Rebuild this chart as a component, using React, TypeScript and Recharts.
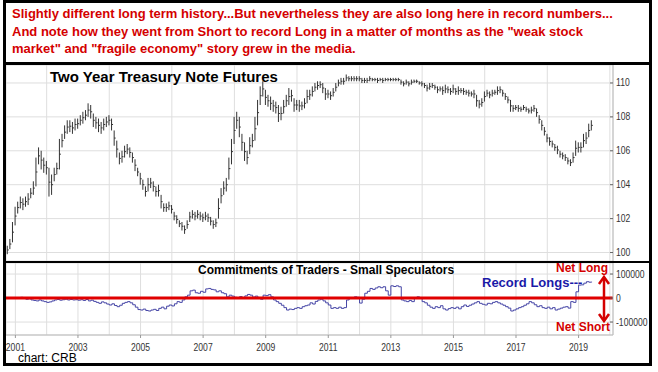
import React from 'react';
import { ComposedChart, Bar, LineChart, Line, XAxis, YAxis, CartesianGrid, ReferenceLine } from 'recharts';

// monthly bars, first one is Oct 2000
const firstMonth = 2000.75;

const yearTicks = [2001, 2002, 2003, 2004, 2005, 2006, 2007, 2008, 2009, 2010, 2011, 2012, 2013, 2014, 2015, 2016, 2017, 2018, 2019, 2020];
const labelYears = [2001, 2003, 2005, 2007, 2009, 2011, 2013, 2015, 2017, 2019];
const priceTicks = [100, 102, 104, 106, 108, 110];
const cotTicks = [-100000, 0, 100000];

const priceLow = [
  99.9, 100.2, 100.6,
  101.6, 102.3, 102.6, 102.5, 102.7, 102.8, 103.2, 103.4, 103.9, 105.2, 104.9, 104.7,
  104.6, 103.3, 103.4, 104.2, 104.6, 104.9, 106.2, 106.7, 107.0, 107.1, 107.0, 107.2,
  107.3, 107.5, 107.6, 107.8, 108.0, 107.9, 107.4, 107.3, 107.1, 107.0, 107.2, 107.4,
  107.5, 107.2, 106.3, 105.6, 105.2, 105.3, 105.6, 105.8, 105.6, 105.3, 104.8, 104.5,
  104.0, 103.7, 103.3, 103.6, 103.8, 103.6, 103.3, 103.3, 102.6, 102.4, 102.4, 102.5,
  102.3, 101.9, 101.7, 101.5, 101.3, 101.1, 101.4, 101.8, 102.0, 101.9, 102.0, 101.9,
  101.8, 101.9, 101.8, 101.6, 101.4, 101.5, 102.0, 102.9, 103.4, 103.6, 104.3, 105.2,
  106.4, 107.3, 106.8, 106.0, 105.4, 105.2, 105.8, 106.2, 106.6, 107.5, 108.7, 109.2,
  108.7, 108.6, 108.4, 108.3, 108.2, 107.7, 107.8, 108.2, 108.6, 108.7, 108.9, 108.3,
  108.4, 108.3, 108.4, 108.5, 108.8, 109.0, 109.2, 109.5, 109.6, 109.7, 109.4, 109.0,
  109.1, 109.0, 109.2, 109.5, 109.8, 109.9, 109.9, 110.1, 110.1, 110.1, 110.1, 110.1,
  110.1, 110.0, 110.0, 110.0, 110.1, 110.1, 110.1, 110.0, 110.1, 110.0, 110.1, 110.1,
  110.1, 110.1, 110.1, 110.1, 109.9, 109.8, 109.9, 109.8, 109.9, 110.0, 110.0, 109.9,
  109.8, 109.7, 109.5, 109.6, 109.7, 109.6, 109.4, 109.5, 109.3, 109.4, 109.4, 109.3,
  109.4, 109.3, 109.3, 109.4, 109.3, 109.3, 109.2, 109.2, 109.1, 108.6, 108.5, 108.6,
  108.9, 109.2, 109.1, 109.2, 109.3, 109.3, 109.4, 109.2, 109.0, 108.8, 108.3, 108.3,
  108.4, 108.3, 108.3, 108.4, 108.3, 108.2, 108.2, 108.3, 108.0, 107.6, 107.2, 106.9,
  106.5, 106.3, 106.2, 106.0, 105.8, 105.6, 105.5, 105.4, 105.2, 105.1, 105.3, 105.7,
  105.9, 105.9, 106.2, 106.4, 106.8, 107.2,
];

const priceHigh = [
  100.4, 100.8, 101.8,
  102.7, 103.0, 103.3, 103.2, 103.3, 103.5, 103.8, 104.2, 105.6, 106.2, 106.0, 105.6,
  105.4, 105.0, 104.6, 105.0, 105.3, 106.7, 107.0, 107.5, 107.8, 107.8, 107.7, 107.9,
  107.9, 108.1, 108.3, 108.4, 108.8, 108.7, 108.2, 108.0, 107.9, 107.7, 107.9, 108.0,
  108.1, 107.9, 107.2, 106.6, 105.9, 106.0, 106.3, 106.4, 106.2, 105.9, 105.5, 105.0,
  104.7, 104.3, 103.9, 104.4, 104.4, 104.2, 103.9, 104.0, 103.4, 102.9, 102.9, 103.0,
  102.8, 102.4, 102.2, 101.9, 101.8, 101.6, 101.9, 102.4, 102.5, 102.4, 102.5, 102.4,
  102.3, 102.4, 102.3, 102.1, 101.9, 102.0, 103.2, 103.8, 104.2, 104.4, 105.6, 106.7,
  108.0, 108.3, 108.0, 107.0, 106.5, 106.0, 106.8, 107.0, 108.0, 109.0, 109.8, 110.1,
  109.6, 109.3, 109.2, 109.0, 108.9, 108.7, 108.6, 109.0, 109.3, 109.7, 109.6, 109.1,
  109.0, 109.0, 108.9, 109.1, 109.6, 109.6, 109.8, 110.0, 110.1, 110.1, 110.0, 109.7,
  109.6, 109.5, 109.7, 110.0, 110.2, 110.3, 110.3, 110.5, 110.4, 110.4, 110.4, 110.4,
  110.4, 110.3, 110.3, 110.3, 110.4, 110.3, 110.3, 110.3, 110.3, 110.3, 110.3, 110.3,
  110.3, 110.3, 110.3, 110.3, 110.2, 110.1, 110.2, 110.1, 110.2, 110.2, 110.2, 110.1,
  110.1, 110.0, 109.9, 110.0, 110.0, 109.9, 109.8, 109.8, 109.8, 109.9, 109.8, 109.7,
  109.9, 109.7, 109.8, 109.7, 109.7, 109.6, 109.6, 109.5, 109.6, 109.3, 109.0, 109.1,
  109.5, 109.6, 109.5, 109.6, 109.6, 109.8, 109.8, 109.6, 109.4, 109.2, 109.0, 108.7,
  108.7, 108.7, 108.6, 108.7, 108.6, 108.5, 108.6, 108.7, 108.5, 108.1, 107.8, 107.4,
  107.0, 106.8, 106.6, 106.4, 106.3, 106.0, 105.9, 105.8, 105.6, 105.5, 105.9, 106.6,
  106.5, 106.5, 107.0, 107.1, 107.6, 107.8,
];

// small speculators net position (contracts)
const cotNet = [
  0, 2000, 0,
  -2000, 0, 3000, 0, -5000, -3000, -8000, -10000, -12000, -8000, -12000, -15000,
  -18000, -16000, -12000, -8000, -6000, -9000, -7000, -5000, -8000, -6000, -8000, -7000,
  -9000, -7000, -10000, -6000, -12000, -9000, -14000, -18000, -22000, -16000, -20000, -25000,
  -29000, -24000, -31000, -36000, -30000, -22000, -18000, -15000, -20000, -28000, -38000, -48000,
  -50000, -46000, -52000, -54000, -50000, -47000, -52000, -43000, -38000, -45000, -34000, -29000,
  -33000, -24000, -15000, -18000, -8000, 5000, 12000, 30000, 33000, 22000, 20000, 28000,
  24000, 38000, 40000, 36000, 34000, 26000, 30000, 22000, 18000, 5000, 12000, 8000,
  3000, 0, 6000, 2000, 9000, 15000, 12000, 4000, 8000, 0, -5000, 12000,
  10000, 14000, 5000, -8000, -15000, -22000, -30000, -40000, -50000, -46000, -48000, -43000,
  -40000, -43000, -36000, -32000, -29000, -20000, -25000, -14000, -8000, -5000, -12000, -20000,
  -29000, -43000, -40000, -43000, -38000, -43000, -40000, -8000, 2000, 0, 5000, 3000,
  -21000, -5000, 20000, 28000, 40000, 36000, 42000, 47000, 43000, 47000, 30000, 12000,
  51000, 48000, 51000, 47000, -8000, -12000, -15000, -10000, -15000, 0, 5000, -2000,
  -15000, -20000, -30000, -38000, -43000, -36000, -40000, -32000, -45000, -50000, -44000, -40000,
  -43000, -38000, -45000, -36000, -29000, -35000, -30000, -25000, -20000, -15000, -22000, -26000,
  -29000, -22000, -24000, -18000, -15000, -20000, -25000, -30000, -36000, -42000, -54000, -50000,
  -45000, -40000, -36000, -30000, -24000, -15000, -20000, -28000, -36000, -32000, -40000, -43000,
  -38000, -45000, -40000, -50000, -46000, -42000, -38000, -36000, -42000, -15000, -18000, 26000,
  54000, 55000, 62000, 68000, 66000, 68000,
];

const rows = priceLow.map((lo, i) => ({
  t: firstMonth + i / 12,
  range: [lo, priceHigh[i]],
  net: cotNet[i],
}));

const xDomain = [2000.7, 2020.1];
const sans = "'Liberation Sans', Arial, sans-serif";

// squeezed label, the original uses a narrow face
const Narrow = ({ x, y, anchor, children }: any) => (
  <text transform={`translate(${x},${y}) scale(0.78,1)`} textAnchor={anchor} fill="#333" fontSize={11} fontFamily={sans}>
    {children}
  </text>
);

const PriceBar = (props: any) => {
  const { x, y, width, height } = props;
  const cx = x + width / 2;
  const top = Math.min(y, y + height);
  const bot = Math.max(y, y + height);
  return (
    <g>
      <line x1={cx} x2={cx} y1={top} y2={bot} stroke="#333" strokeWidth={1} />
      <line x1={cx} x2={cx + 1.5} y1={(top + bot) / 2} y2={(top + bot) / 2} stroke="#333" strokeWidth={1} />
    </g>
  );
};

const YearTick = (props: any) => {
  const { x, y, payload } = props;
  if (!labelYears.includes(payload.value)) return <g />;
  return (
    <g>
      <line x1={x} x2={x} y1={y} y2={y + 3} stroke="#999" />
      <Narrow x={x} y={y + 16} anchor="middle">{payload.value}</Narrow>
    </g>
  );
};

const ValueTick = (props: any) => {
  const { x, y, payload } = props;
  return (
    <g>
      <line x1={x - 3} x2={x} y1={y} y2={y} stroke="#666" />
      <Narrow x={x + 3} y={y + 3.5} anchor="start">{payload.value}</Narrow>
    </g>
  );
};

const abs = (left: number, top: number, extra: React.CSSProperties = {}): React.CSSProperties => ({
  position: 'absolute', left, top, ...extra,
});

export default function App() {
  return (
    <div style={{ position: 'absolute', left: 0, top: 0, width: 658, height: 372, background: '#fff', overflow: 'hidden', fontFamily: sans }}>
      <div style={abs(12, 5, { color: '#d40000', fontWeight: 'bold', fontSize: 13, lineHeight: '17.5px', whiteSpace: 'nowrap' })}>
        Slightly different long term history...But nevertheless they are also long here in record numbers...<br />
        And note how they went from Short to record Long in a matter of months as the "weak stock<br />
        market" and "fragile economy" story grew in the media.
      </div>

      <div style={abs(0, 65)}>
        <ComposedChart width={658} height={196} data={rows} margin={{ top: 0, right: 0, bottom: 0, left: 6 }}>
          <CartesianGrid stroke="#dedede" />
          <XAxis dataKey="t" type="number" domain={xDomain} ticks={yearTicks} hide />
          <YAxis orientation="right" width={45} domain={[99.5, 111.06]} ticks={priceTicks} allowDataOverflow interval={0}
            tick={(p: any) => <ValueTick {...p} />} tickLine={false} tickSize={0} tickMargin={0} axisLine={{ stroke: '#bbb' }} />
          <Bar dataKey="range" barSize={2} shape={PriceBar} isAnimationActive={false} />
        </ComposedChart>
      </div>

      <div style={abs(0, 263)}>
        <LineChart width={658} height={95} data={rows} margin={{ top: 0, right: 0, bottom: 0, left: 6 }}>
          <CartesianGrid stroke="#dedede" />
          <XAxis dataKey="t" type="number" domain={xDomain} ticks={yearTicks} height={23} interval={0}
            tick={(p: any) => <YearTick {...p} />} tickLine={false} tickSize={0} tickMargin={0} axisLine={{ stroke: '#bbb' }} />
          <YAxis orientation="right" width={45} domain={[-154000, 146000]} ticks={cotTicks} allowDataOverflow interval={0}
            tick={(p: any) => <ValueTick {...p} />} tickLine={false} tickSize={0} tickMargin={0} axisLine={{ stroke: '#bbb' }} />
          <Line dataKey="net" type="stepAfter" stroke="#4646a6" strokeWidth={1} dot={false} isAnimationActive={false} />
          <ReferenceLine y={0} stroke="#e00000" strokeWidth={3} />
        </LineChart>
      </div>

      <div style={abs(50, 68, { fontWeight: 'bold', fontSize: 15, color: '#000', whiteSpace: 'nowrap' })}>Two Year Treasury Note Futures</div>
      <div style={abs(198, 263, { fontWeight: 'bold', fontSize: 12, color: '#000', whiteSpace: 'nowrap' })}>Commitments of Traders - Small Speculators</div>
      <div style={abs(482, 275, { fontWeight: 'bold', fontSize: 13, color: '#1a1aa8', whiteSpace: 'nowrap' })}>Record Longs---</div>
      <div style={abs(556, 261, { fontWeight: 'bold', fontSize: 12, color: '#d40000', whiteSpace: 'nowrap' })}>Net Long</div>
      <div style={abs(556, 320, { fontWeight: 'bold', fontSize: 12, color: '#d40000', whiteSpace: 'nowrap' })}>Net Short</div>
      <div style={abs(18, 351, { fontSize: 12, color: '#000', whiteSpace: 'nowrap' })}>chart: CRB</div>

      <svg width={658} height={372} style={abs(0, 0, { pointerEvents: 'none' })}>
        <line x1={604} x2={604} y1={278} y2={320} stroke="#d40000" strokeWidth={2.5} />
        <polyline points="599,284 604,277 609,284" fill="none" stroke="#d40000" strokeWidth={2.5} />
        <polyline points="599,314 604,321 609,314" fill="none" stroke="#d40000" strokeWidth={2.5} />
      </svg>

      <div style={abs(3, 0, { width: 649, height: 366, border: '3px solid #000', boxSizing: 'border-box' })} />
      <div style={abs(3, 62, { width: 649, height: 3, background: '#000' })} />
      <div style={abs(3, 261, { width: 649, height: 2, background: '#000' })} />
    </div>
  );
}
